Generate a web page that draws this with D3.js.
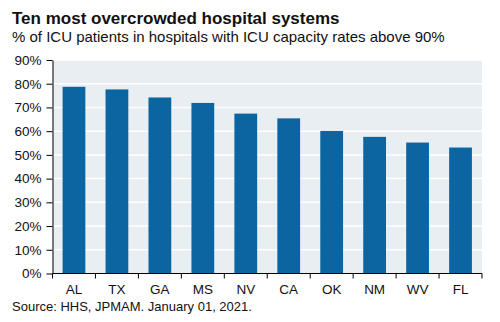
<!DOCTYPE html>
<html><head><meta charset="utf-8">
<script src="https://cdn.jsdelivr.net/npm/d3@7"></script>
<style>body{margin:0;background:#fff;} text{font-family:Arial,"Liberation Sans",sans-serif;}</style>
</head><body>
<svg id="c" width="500" height="322"></svg>
<script>
const categories = ["AL","TX","GA","MS","NV","CA","OK","NM","WV","FL"];
const values = [78.7, 77.6, 74.2, 71.9, 67.4, 65.4, 60.1, 57.6, 55.2, 53.1];
const yTicks = [0,10,20,30,40,50,60,70,80,90];

const svg = d3.select("#c");
const L = 52.5, R = 482, T = 60, B = 273.5;
const x = d3.scaleBand().domain(categories).range([L, R]).paddingInner(0.47).paddingOuter(0.235);
const y = d3.scaleLinear().domain([0, 90]).range([B, T]);

svg.append("rect").attr("x", L).attr("y", T).attr("width", R - L).attr("height", B - T).attr("fill", "#e8eef2");
svg.append("g").selectAll("line").data(yTicks.filter(d => d > 0)).join("line")
  .attr("x1", L).attr("x2", R).attr("y1", d => y(d)).attr("y2", d => y(d))
  .attr("stroke", "#fff").attr("stroke-width", 1.5);

svg.append("g").selectAll("rect").data(categories).join("rect")
  .attr("x", d => x(d)).attr("width", x.bandwidth())
  .attr("y", (d, i) => y(values[i])).attr("height", (d, i) => B - y(values[i]))
  .attr("fill", "#0b65a1");

// y axis
const ya = svg.append("g").attr("transform", `translate(${L},0)`)
  .call(d3.axisLeft(y).tickValues(yTicks).tickFormat(d => d + "%").tickSize(6).tickSizeOuter(0));
ya.select(".domain").attr("stroke", "#000");
ya.selectAll("text").attr("font-size", 13.5).attr("fill", "#111").attr("x", -11);

// x axis
const xa = svg.append("g").attr("transform", `translate(0,${B})`);
xa.append("line").attr("x1", L).attr("x2", R).attr("stroke", "#000");
const step = x.step();
const boundaries = d3.range(categories.length + 1).map(i => L + i * step);
xa.selectAll("line.t").data(boundaries).join("line").attr("class", "t")
  .attr("x1", d => d).attr("x2", d => d).attr("y1", 0).attr("y2", 5).attr("stroke", "#000");
xa.selectAll("text").data(categories).join("text")
  .attr("x", d => x(d) + x.bandwidth() / 2).attr("y", 20)
  .attr("text-anchor", "middle").attr("font-size", 13.5).attr("fill", "#111").text(d => d);

svg.append("text").attr("x", 12).attr("y", 24).attr("font-size", 17).attr("font-weight", "bold").attr("fill", "#111")
  .text("Ten most overcrowded hospital systems");
svg.append("text").attr("x", 12).attr("y", 42).attr("font-size", 15).attr("fill", "#111")
  .text("% of ICU patients in hospitals with ICU capacity rates above 90%");
svg.append("text").attr("x", 12).attr("y", 311).attr("font-size", 13).attr("fill", "#111")
  .text("Source: HHS, JPMAM. January 01, 2021.");
</script>
</body></html>
